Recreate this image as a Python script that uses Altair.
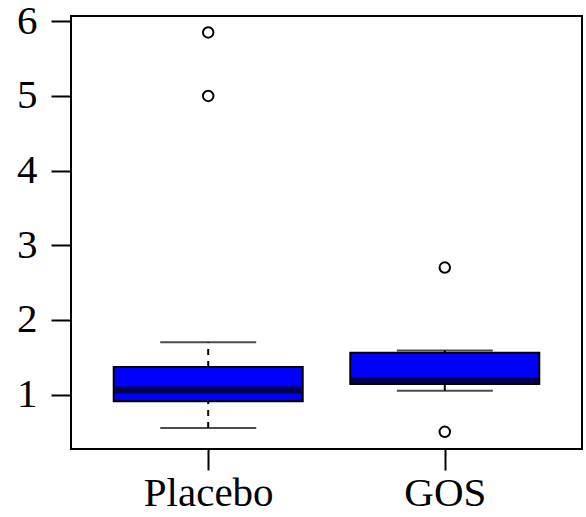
import altair as alt
import pandas as pd

groups = ["Placebo", "GOS"]
whisker_low = [0.55, 1.05]
q1 = [0.91, 1.14]
median = [1.06, 1.18]
q3 = [1.37, 1.56]
whisker_high = [1.70, 1.59]

outlier_group = ["Placebo", "Placebo", "GOS", "GOS"]
outlier_value = [5.85, 5.00, 2.70, 0.50]

y_ticks = [1, 2, 3, 4, 5, 6]

stats = pd.DataFrame({
    "group": groups, "lo": whisker_low, "q1": q1, "med": median,
    "q3": q3, "hi": whisker_high,
})
outliers = pd.DataFrame({"group": outlier_group, "value": outlier_value})

FONT = "Liberation Serif"

x_enc = alt.X(
    "group:N",
    sort=groups,
    scale=alt.Scale(type="point", domain=groups, padding=0.58),
    axis=alt.Axis(
        title=None, domain=False, tickSize=21, tickWidth=2, tickColor="black",
        labelFont=FONT, labelFontSize=41, labelColor="black", labelPadding=3,
        labelAngle=0, grid=False,
    ),
)
y_scale = alt.Scale(domain=[0.27, 6.07], nice=False, zero=False)
y_axis = alt.Axis(
    title=None, domain=False, values=y_ticks, tickSize=20, tickWidth=2,
    tickColor="black", labelFont=FONT, labelFontSize=41, labelColor="black",
    labelPadding=14, grid=False, format="d",
)

base = alt.Chart(stats)

upper_whisker = base.mark_rule(color="black", strokeWidth=2, strokeDash=[6, 6]).encode(
    x=x_enc, y=alt.Y("q3:Q", scale=y_scale, axis=y_axis), y2="hi:Q"
)
lower_whisker = base.mark_rule(color="black", strokeWidth=2, strokeDash=[6, 6]).encode(
    x=x_enc, y=alt.Y("lo:Q", scale=y_scale, axis=y_axis), y2="q1:Q"
)
cap_hi = base.mark_tick(color="black", size=96, thickness=2).encode(
    x=x_enc, y=alt.Y("hi:Q", scale=y_scale, axis=y_axis)
)
cap_lo = base.mark_tick(color="black", size=96, thickness=2).encode(
    x=x_enc, y=alt.Y("lo:Q", scale=y_scale, axis=y_axis)
)
box = base.mark_bar(size=189, color="#0000FF", stroke="black", strokeWidth=2).encode(
    x=x_enc, y=alt.Y("q1:Q", scale=y_scale, axis=y_axis), y2="q3:Q"
)
med = base.mark_tick(color="black", size=187, thickness=7).encode(
    x=x_enc, y=alt.Y("med:Q", scale=y_scale, axis=y_axis)
)
pts = alt.Chart(outliers).mark_point(
    shape="circle", filled=False, color="black", size=110, strokeWidth=2, opacity=1
).encode(
    x=x_enc, y=alt.Y("value:Q", scale=y_scale, axis=y_axis)
)

chart = alt.layer(
    upper_whisker, lower_whisker, cap_hi, cap_lo, box, med, pts
).properties(
    width=511, height=433,
    autosize=alt.AutoSizeParams(type="none"),
    padding={"left": 71, "top": 16, "right": 4, "bottom": 68},
    background="white",
).configure_view(stroke="black", strokeWidth=2)

chart.save("out.html", embed_options={"renderer": "svg", "actions": False})
